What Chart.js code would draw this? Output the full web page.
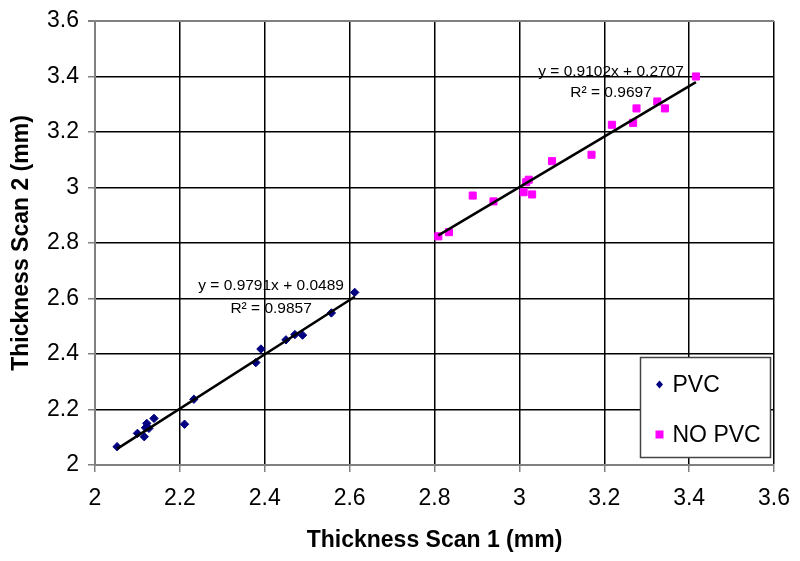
<!DOCTYPE html>
<html>
<head>
<meta charset="utf-8">
<script src="https://cdn.jsdelivr.net/npm/chart.js@4.4.1/dist/chart.umd.min.js"></script>
<style>
  html, body { margin: 0; padding: 0; background: #fff; }
  canvas { display: block; }
</style>
</head>
<body>
<canvas id="grafico" width="800" height="561"></canvas>
<script>
// dados (espessura em mm)
const pvcX = [2.052, 2.100, 2.116, 2.122, 2.119, 2.127, 2.139, 2.211, 2.233, 2.379, 2.391, 2.450, 2.471, 2.489, 2.557, 2.612];
const pvcY = [2.066, 2.114, 2.102, 2.150, 2.134, 2.132, 2.168, 2.147, 2.237, 2.369, 2.418, 2.451, 2.470, 2.468, 2.548, 2.622];

const semPvcX = [2.809, 2.834, 2.890, 2.939, 3.010, 3.016, 3.022, 3.030, 3.077, 3.170, 3.218, 3.268, 3.276, 3.325, 3.343, 3.416];
const semPvcY = [2.824, 2.839, 2.971, 2.950, 2.983, 3.019, 3.028, 2.975, 3.095, 3.118, 3.226, 3.233, 3.285, 3.310, 3.285, 3.400];

// linhas de tendencia: [inclinacao, intercepto] e faixa de x
const tendPvc = [0.9791, 0.0489];
const tendSemPvc = [0.9102, 0.2707];
const faixaPvc = [2.052, 2.612];
const faixaSemPvc = [2.809, 3.416];

const rotulosEquacao = ['y = 0.9791x + 0.0489', 'R\u00b2 = 0.9857', 'y = 0.9102x + 0.2707', 'R\u00b2 = 0.9697'];

const ticksEixo = [2, 2.2, 2.4, 2.6, 2.8, 3, 3.2, 3.4, 3.6];
const nomesSeries = ['PVC', 'NO PVC'];

const fonte = 'Arial, "Liberation Sans", sans-serif';

function pontos(xs, ys) {
    return xs.map((x, i) => ({ x: x, y: ys[i] }));
}

function linhaTendencia(coef, faixa) {
    return faixa.map(x => ({ x: x, y: coef[0] * x + coef[1] }));
}

// onde ficam as equacoes (em unidades dos eixos)
const posEquacoes = [
    { x: 2.415, y: 2.629 }, { x: 2.415, y: 2.548 },
    { x: 3.216, y: 3.402 }, { x: 3.216, y: 3.327 }
];

const pluginEquacoes = {
    id: 'equacoes',
    afterDatasetsDraw(chart) {
        const c = chart.ctx;
        const sx = chart.scales.x, sy = chart.scales.y;
        c.save();
        c.font = '15.5px ' + fonte;
        c.fillStyle = '#000';
        c.textAlign = 'center';
        c.textBaseline = 'alphabetic';
        rotulosEquacao.forEach((t, i) => {
            c.fillText(t, sx.getPixelForValue(posEquacoes[i].x), sy.getPixelForValue(posEquacoes[i].y));
        });
        c.restore();
    }
};

// legenda com caixa dentro da area do grafico
const pluginLegenda = {
    id: 'legendaCaixa',
    afterDraw(chart) {
        const c = chart.ctx;
        const area = chart.chartArea;
        const larg = 130, alt = 100;
        const x0 = Math.round(area.right - 4 - larg) + 0.5, y0 = Math.round(area.bottom - 8 - alt) + 0.5;
        c.save();
        c.fillStyle = '#fff';
        c.fillRect(x0, y0, larg, alt);
        c.strokeStyle = '#444';
        c.lineWidth = 1.5;
        c.strokeRect(x0, y0, larg, alt);

        const cores = ['#000080', '#ff00ff'];
        const ys = [y0 + 27, y0 + 77];
        ys.forEach((y, i) => {
            const mx = x0 + 19;
            c.fillStyle = cores[i];
            c.beginPath();
            if (i === 0) {
                c.moveTo(mx - 3.5, y); c.lineTo(mx, y - 4); c.lineTo(mx + 3.5, y); c.lineTo(mx, y + 4);
            } else {
                c.rect(mx - 4, y - 4, 8, 8);
            }
            c.closePath();
            c.fill();
            c.fillStyle = '#000';
            c.font = '23px ' + fonte;
            c.textAlign = 'left';
            c.textBaseline = 'middle';
            c.fillText(nomesSeries[i], x0 + 32, y + 1);
        });
        c.restore();
    }
};

function eixo(titulo, ehX) {
    return {
        type: 'linear',
        min: 2,
        max: 3.6,
        afterBuildTicks: s => { s.ticks = ticksEixo.map(v => ({ value: v })); },
        afterFit: s => {
            // tamanho fixo dos eixos, sem folga extra para os rotulos
            if (ehX) {
                s.height = 96;
                s.paddingLeft = 0;
                s.paddingRight = 0;
            } else {
                s.width = 95;
                s.paddingTop = 0;
                s.paddingBottom = 0;
            }
        },
        ticks: {
            color: '#000',
            font: { family: fonte, size: 23 },
            padding: ehX ? 13 : 9,
            callback: v => String(Math.round(v * 10) / 10)
        },
        grid: {
            // a linha de cima do grafico e cinza
            color: c => (!ehX && c.tick && c.tick.value === 3.6) ? '#808080' : '#000',
            lineWidth: c => (!ehX && c.tick && c.tick.value === 3.6) ? 2 : 1.5,
            tickLength: 7,
            tickColor: '#808080'
        },
        border: { color: '#808080', width: 2 },
        title: {
            display: true,
            text: titulo,
            color: '#000',
            font: { family: fonte, size: 23, weight: 'bold' },
            padding: ehX ? { top: 0, bottom: 7 } : { top: 8, bottom: 0 }
        }
    };
}

const ctx = document.getElementById('grafico').getContext('2d');
new Chart(ctx, {
    type: 'scatter',
    data: {
        datasets: [
            {
                label: nomesSeries[0],
                data: pontos(pvcX, pvcY),
                pointStyle: 'rectRot',
                pointRadius: 4.2,
                borderWidth: 1,
                backgroundColor: '#000080',
                borderColor: '#000080',
                order: 2
            },
            {
                label: nomesSeries[1],
                data: pontos(semPvcX, semPvcY),
                pointStyle: 'rect',
                pointRadius: 5,
                borderWidth: 1,
                backgroundColor: '#ff00ff',
                borderColor: '#ff00ff',
                order: 2
            },
            {
                type: 'line',
                label: 'tendencia PVC',
                data: linhaTendencia(tendPvc, faixaPvc),
                borderColor: '#000',
                borderWidth: 2.5,
                pointRadius: 0,
                fill: false,
                order: 1
            },
            {
                type: 'line',
                label: 'tendencia NO PVC',
                data: linhaTendencia(tendSemPvc, faixaSemPvc),
                borderColor: '#000',
                borderWidth: 2.5,
                pointRadius: 0,
                fill: false,
                order: 1
            }
        ]
    },
    options: {
        responsive: false,
        animation: false,
        devicePixelRatio: 1,
        layout: { padding: { left: 0, right: 26, top: 21, bottom: 0 } },
        plugins: {
            legend: { display: false },
            tooltip: { enabled: false }
        },
        scales: {
            x: eixo('Thickness Scan 1 (mm)', true),
            y: eixo('Thickness Scan 2 (mm)', false)
        }
    },
    plugins: [pluginEquacoes, pluginLegenda]
});
</script>
</body>
</html>
